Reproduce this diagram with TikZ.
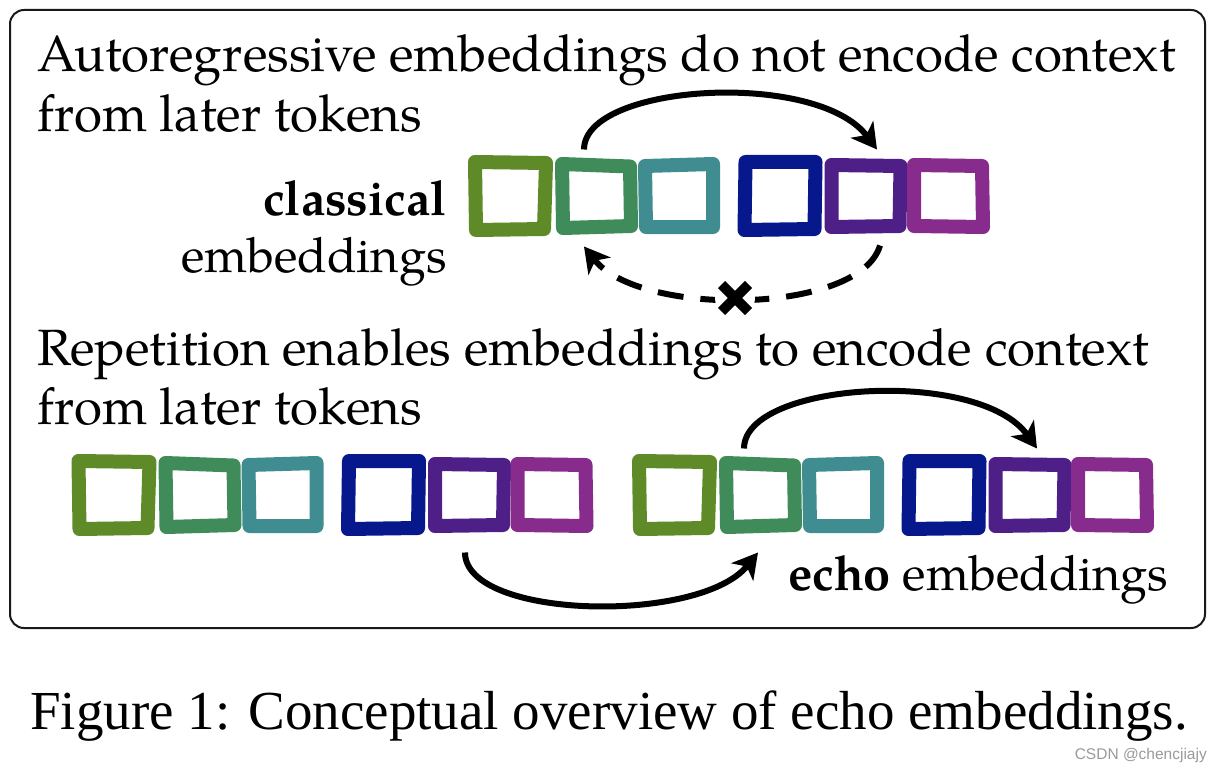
\documentclass[tikz,border=0pt]{standalone}
\usepackage{fontspec}
\setmainfont{Liberation Serif}
\newfontfamily\pal{texgyrepagella}[Extension=.otf,UprightFont=*-regular,BoldFont=*-bold,ItalicFont=*-italic,BoldItalicFont=*-bolditalic]
\newfontfamily\wmfont{Liberation Sans}
\usetikzlibrary{arrows.meta}
\definecolor{tokA}{RGB}{94,139,39}
\definecolor{tokB}{RGB}{63,140,90}
\definecolor{tokC}{RGB}{63,141,144}
\definecolor{tokD}{RGB}{6,24,140}
\definecolor{tokE}{RGB}{78,31,135}
\definecolor{tokF}{RGB}{135,44,140}
\newcommand\tokbox[9]{%
  \node[tokspot,#5] (#1) at (#2,#3) {};
  \draw[tokline,#4] ([shift={#6}]#1.north west) -- ([shift={#7}]#1.north east) -- ([shift={#8}]#1.south east) -- ([shift={#9}]#1.south west) -- cycle;
}
\newcommand\tokrow[3]{%
  \tokbox{#1a}{#2}{#3}{tokA}{tokbig}{(0,0)}{(0,1)}{(-2,0)}{(1,1)}
  \tokbox{#1b}{#2+85.5}{#3+0.5}{tokB}{toksmall}{(0,-1)}{(0,1.5)}{(1,-1)}{(1,1)}
  \tokbox{#1c}{#2+168.5}{#3+0.5}{tokC}{toksmall}{(0,1)}{(0,-1)}{(0,0)}{(1,0)}
  \tokbox{#1d}{#2+269.5}{#3}{tokD}{tokbig}{(1,0)}{(0,0)}{(-1,0)}{(0,1)}
  \tokbox{#1e}{#2+355}{#3+0.5}{tokE}{toksmall}{(0,0)}{(1,1)}{(0,-1)}{(0,0)}
  \tokbox{#1f}{#2+437.5}{#3+0.5}{tokF}{toksmall}{(0,0)}{(0,1)}{(1,0)}{(0,-1)}
}
\begin{document}
\begin{tikzpicture}[x=1pt,y=-1pt,
  tokspot/.style={draw=none,inner sep=0pt,outer sep=0pt},
  tokbig/.style={minimum width=71pt,minimum height=67pt},
  toksmall/.style={minimum width=68pt,minimum height=62pt},
  tokline/.style={line width=14pt,line join=round},
  txt/.style={font=\pal\fontsize{51}{60}\selectfont,inner sep=0pt},
  lbl/.style={font=\pal\fontsize{48.6}{58}\selectfont,inner sep=0pt},
  arr/.style={line width=6pt,-{Stealth[length=25pt,width=28pt,inset=7pt]}},
  darr/.style={arr,dash pattern=on 26pt off 17pt}]
\useasboundingbox (0,0) rectangle (1222,770);
\draw[line width=2pt,rounded corners=14pt,black!90] (10,10) rectangle (1205,628);
% texts
\node[txt,anchor=base west] (t1) at (37,72) {Autoregressive embeddings do not encode context};
\node[txt,anchor=base west] (t2) at (37,132) {from later tokens};
\node[lbl,anchor=base east] (cl1) at (447,215) {\textbf{classical}};
\node[lbl,anchor=base east] (cl2) at (447,272) {embeddings};
\node[txt,anchor=base west] (t3) at (37,365) {Repetition enables embeddings to encode context};
\node[txt,anchor=base west] (t4) at (37,424) {from later tokens};
\node[lbl,anchor=base west] (ec) at (788,590) {\textbf{echo} embeddings};
% tokens
\tokrow{c}{510.5}{195.5}
\tokrow{p}{114}{494.5}
\tokrow{q}{674.5}{494.5}
% classical arrows
\draw[arr] ([xshift=-12pt,yshift=15.5pt]cb.north) .. controls +(0,-66) and +(-60,-80) .. ([xshift=11.5pt,yshift=15.5pt]ce.north);
\draw[darr] ([xshift=14.5pt,yshift=-18.5pt]ce.south) .. controls +(-20,69) and +(56,71) .. ([xshift=-12pt,yshift=-19.5pt]cb.south);
\node[inner sep=0pt,minimum size=1pt] (xm) at (735,298) {};
\fill[white] (xm.center) circle[radius=20pt];
\draw[line width=10pt] ([shift={(-13.5,-13.5)}]xm.center) -- ([shift={(13.5,13.5)}]xm.center);
\draw[line width=10pt] ([shift={(-13.5,13.5)}]xm.center) -- ([shift={(13.5,-13.5)}]xm.center);
% echo arrows
\draw[arr] ([xshift=-16pt,yshift=15.5pt]qb.north) .. controls +(0,-67) and +(-58,-81) .. ([xshift=7.5pt,yshift=15.5pt]qe.north);
\draw[arr] ([xshift=-4pt,yshift=-26.5pt]pe.south) .. controls +(0,67) and +(-58,72) .. ([xshift=-2pt,yshift=-26.5pt]qb.south);
% caption
\node[anchor=base west,inner sep=0pt,font=\fontsize{55}{60}\selectfont] (cap) at (30,729) {Figure 1: Conceptual overview of echo embeddings.};
\node[anchor=base east,inner sep=0pt,font=\wmfont\fontsize{15.5}{18}\selectfont,text=black!40] (wm) at (1207,759) {CSDN @chencjiajy};
\end{tikzpicture}
\end{document}
